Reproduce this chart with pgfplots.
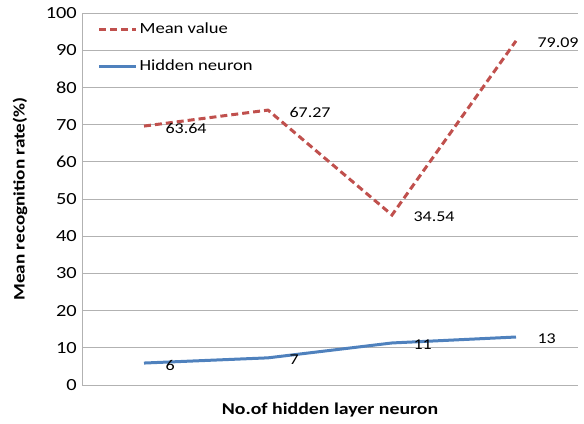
\documentclass[border=0pt]{standalone}
\usepackage{fontspec}
\setmainfont{Carlito}[FakeStretch=1.2]
\usepackage{pgfplots}
\pgfplotsset{compat=1.18}
\definecolor{xred}{HTML}{C0504D}
\definecolor{xblue}{HTML}{4F81BD}
\begin{document}
\fontsize{15}{17}\selectfont
\begin{tikzpicture}
\begin{axis}[
  scale only axis, width=496pt, height=372pt,
  xmin=0.5, xmax=4.5, ymin=0, ymax=100,
  ytick={0,10,...,100},
  xtick=\empty,
  axis x line*=bottom, axis y line*=left,
  axis line style={-, gray!60, line width=0.8pt},
  ymajorgrids, grid style={gray!60, line width=0.8pt},
  tick style={draw=none},
  /pgf/number format/assume math mode=true,
  ticklabel style={font=\fontsize{17}{19}\selectfont},
  ylabel={\bfseries Mean recognition rate(\%)},
  xlabel={\bfseries No.of hidden layer neuron},
  every axis y label/.style={at={(axis description cs:-0.125,0.5)}, rotate=90, anchor=center, font=\fontsize{16}{18}\selectfont},
  every axis x label/.style={at={(axis description cs:0.5,-0.067)}, anchor=center, font=\fontsize{16.5}{18}\selectfont},
  legend style={at={(0.025,0.985)}, anchor=north west, draw=none, fill=none,
    font=\fontsize{15.5}{17}\selectfont, row sep=20pt},
  legend cell align=left,
  legend image code/.code={\draw[#1] (0pt,0pt) -- (37pt,0pt);},
  clip=false,
  nodes near coords, point meta=explicit symbolic,
  every node near coord/.append style={anchor=west, xshift=15pt, yshift=-2pt, text=black, font=\fontsize{15}{17}\selectfont},
]
\addplot[xred, line width=3pt, dash pattern=on 7pt off 4pt] coordinates {(1,69.6)[63.64] (2,73.9)[67.27] (3,45.7)[34.54] (4,92.5)[79.09]};
\addplot[xblue, line width=3pt] coordinates {(1,5.9)[6] (2,7.3)[7] (3,11.3)[11] (4,12.9)[13]};
\legend{Mean value, Hidden neuron}
\end{axis}
\path ([shift={(-82pt,-39pt)}]current axis.south west) rectangle ([shift={(6pt,13pt)}]current axis.north east);
\end{tikzpicture}
\end{document}
